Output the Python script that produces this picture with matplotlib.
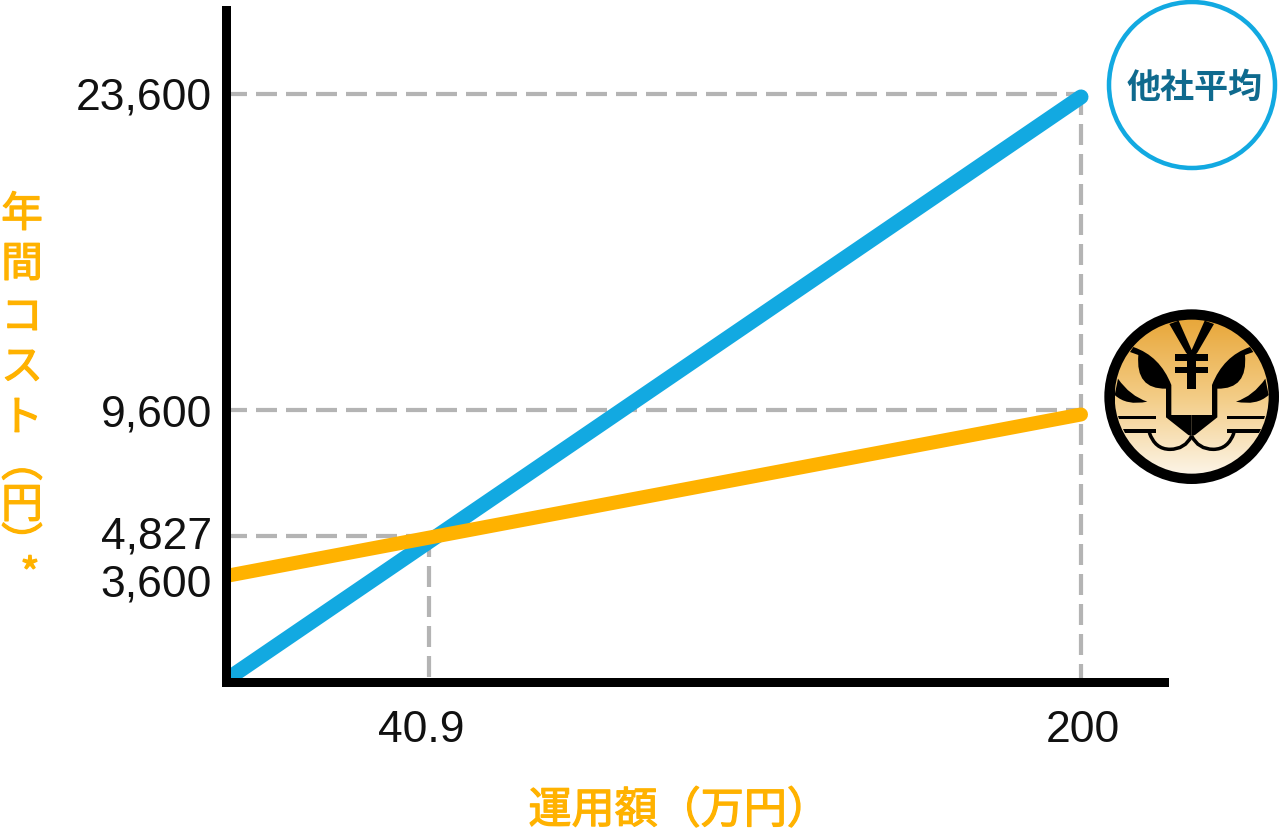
import numpy as np
import matplotlib
matplotlib.use('Agg')
import matplotlib.pyplot as plt
import matplotlib.patheffects as pe
from matplotlib.colors import LinearSegmentedColormap
from matplotlib.patches import Circle, PathPatch, Polygon
from matplotlib.path import Path
from matplotlib.transforms import Affine2D, ScaledTranslation

plt.rcParams['font.family'] = ['Noto Sans CJK JP', 'DejaVu Sans']
plt.rcParams['lines.scale_dashes'] = False

# data
x_ticks = [40.9, 200]
x_tick_labels = ['40.9', '200']
y_ticks = [3600, 4827, 9600, 23600]
y_tick_labels = ['3,600', '4,827', '9,600', '23,600']

amount = [0, 200]
other_cost = [0, 23470]
our_cost = [3600, 9430]

ORANGE = '#FFB200'
BLUE = '#12A9E1'
TEAL = '#0F6A8E'
GRAY = '#B4B4B4'

W, H = 1280, 833
fig = plt.figure(figsize=(W / 100, H / 100), dpi=100)
px = 0.72  # 1 pixel in points

# axes rect in pixels
left, right, top, bottom = 226, 1164, 10, 682
ax = fig.add_axes([left / W, 1 - bottom / H, (right - left) / W, (bottom - top) / H])

# the picture is a schematic, its axes are not linear: piecewise scales
x_vals = np.array([-1000, 0, 40.9, 200, 1200])
x_pos = np.array([-4000, 226, 429, 1081, 5000])
y_vals = np.array([-1000, 0, 3600, 4827, 9600, 23600, 50000])
y_pos = np.array([4000, 680, 576, 536, 410, 94, -4000])


def fx(v):
    return np.interp(v, x_vals, x_pos)


def fx_inv(p):
    return np.interp(p, x_pos, x_vals)


def fy(v):
    return -np.interp(v, y_vals, y_pos)


def fy_inv(p):
    return np.interp(p, -y_pos, y_vals)


ax.set_xscale('function', functions=(fx, fx_inv))
ax.set_yscale('function', functions=(fy, fy_inv))
ax.set_xlim(fx_inv(left), fx_inv(right))
ax.set_ylim(fy_inv(-bottom), fy_inv(-top))
ax.minorticks_off()

# guide lines
x0, y0 = ax.get_xlim()[0], ax.get_ylim()[0]
dash = dict(color=GRAY, lw=4.2 * px, linestyle=(0, (21 * px, 9 * px)), zorder=1)
ax.plot([x0, 40.9], [4827, 4827], **dash)
ax.plot([40.9, 40.9], [4827, y0], **dash)
ax.plot([x0, 200], [9600, 9600], **dash)
ax.plot([x0, 200], [23600, 23600], **dash)
ax.plot([200, 200], [23600, y0], **dash)

ax.plot(amount, other_cost, color=BLUE, lw=15 * px, solid_capstyle='round', zorder=2)
ax.plot(amount, our_cost, color=ORANGE, lw=14 * px, solid_capstyle='round', zorder=2.1)

for s in ['top', 'right']:
    ax.spines[s].set_visible(False)
for s in ['left', 'bottom']:
    ax.spines[s].set_linewidth(9 * px)
    ax.spines[s].set_color('black')
    ax.spines[s].set_capstyle('projecting')
    ax.spines[s].set_zorder(3)

ax.set_xticks(x_ticks, x_tick_labels, fontfamily='Liberation Sans', fontsize=32)
ax.set_yticks(y_ticks, y_tick_labels, fontfamily='Liberation Sans', fontsize=32)
ax.tick_params(axis='x', length=0, pad=20, labelcolor='#111111')
ax.tick_params(axis='y', length=0, pad=10, labelcolor='#111111')


def shift(label, dx, dy):
    label.set_transform(label.get_transform() + ScaledTranslation(dx * px / 72, -dy * px / 72, fig.dpi_scale_trans))


for lab, dx in zip(ax.get_xticklabels(), [-8, 2]):
    shift(lab, dx, 0)
for lab, dy in zip(ax.get_yticklabels(), [4, -3, 1, 0]):
    shift(lab, 0, dy)

# overlay in pixel coordinates for labels and icons
ov = fig.add_axes([0, 0, 1, 1], facecolor='none')
ov.set_xlim(0, W)
ov.set_ylim(H, 0)
ov.axis('off')

# regular weight with a thin stroke, the bold cut is too heavy here
thick = [pe.withStroke(linewidth=1.3 * px, foreground=ORANGE)]
ov.text(679, 811, '運用額（万円）', color=ORANGE, fontsize=31, ha='center', va='center', path_effects=thick)

# vertical label, one glyph at a time
ylabel_chars = ['年', '間', 'コ', 'ス', 'ト', '\ufe35', '円', '\ufe36']
ylabel_y = [215, 265, 318, 368, 419, 465, 506, 546]
for ch, yy in zip(ylabel_chars, ylabel_y):
    ov.text(22, yy, ch, color=ORANGE, fontsize=30, ha='center', va='center', path_effects=thick)
ov.text(30, 577, '*', color=ORANGE, fontsize=30, ha='center', va='center', path_effects=thick)

# other companies badge
ov.add_patch(Circle((1192, 85), 83, fc='white', ec=BLUE, lw=4.5 * px))
ov.text(1195, 87, '他社平均', color=TEAL, fontsize=24.5, fontweight='bold', ha='center', va='center')

# tiger icon, shapes in zoomed-crop coordinates
tiger = Affine2D().scale(1 / 3).translate(1090, 300) + ov.transData
mirror = Affine2D().scale(-1, 1).translate(610, 0) + tiger

ov.add_patch(Circle((305, 290), 262, fc='black', ec='none', transform=tiger))
cmap = LinearSegmentedColormap.from_list('tiger', ['#E8A73A', '#F3CC85', '#FCF4E6'])
img = ov.imshow(np.linspace(0, 1, 256).reshape(-1, 1), cmap=cmap, aspect='auto',
                extent=(1090 + 75 / 3, 1090 + 535 / 3, 300 + 522 / 3, 300 + 60 / 3), zorder=1.5)
clip = Circle((305, 290), 231, transform=tiger)
img.set_clip_path(clip)
ov.set_xlim(0, W)
ov.set_ylim(H, 0)

M, L, C = Path.MOVETO, Path.LINETO, Path.CURVE3

half_shapes = [
    # yen arm
    ([(238, 72), (266, 62), (305, 150), (305, 178), (288, 158)], [M, L, L, L, L]),
    # brow, eye and face line
    ([(130, 141), (210, 168), (244, 255), (244, 345), (228, 345), (228, 266), (136, 268), (145, 165), (120, 156)],
     [M, C, C, L, L, L, C, C, L]),
    # cheek stripe
    ([(84, 236), (120, 288), (172, 305), (110, 318), (74, 285)], [M, C, C, C, C]),
    # whiskers
    ([(84, 347), (198, 347), (198, 358), (88, 358)], [M, L, L, L]),
    ([(98, 387), (198, 387), (198, 398), (104, 398)], [M, L, L, L]),
    # nose
    ([(228, 345), (305, 345), (305, 408), (295, 405), (228, 352)], [M, L, L, L, L]),
]
for verts, codes in half_shapes:
    for tr in (tiger, mirror):
        ov.add_patch(PathPatch(Path(verts, codes), fc='black', ec='none', transform=tr, zorder=2))

# mouth curves
mouth = Path([(305, 408), (285, 448), (240, 448), (195, 448), (178, 398)], [M, C, C, C, C])
for tr in (tiger, mirror):
    ov.add_patch(PathPatch(mouth, fc='none', ec='black', lw=3.5 * px, transform=tr, zorder=2))

# yen sign
for rect in [[(255, 162), (355, 162), (355, 182), (255, 182)],
             [(255, 200), (355, 200), (355, 220), (255, 220)],
             [(292, 150), (318, 150), (318, 266), (292, 266)]]:
    ov.add_patch(Polygon(rect, fc='black', ec='none', transform=tiger, zorder=2))

fig.savefig('out.png', dpi=100)
